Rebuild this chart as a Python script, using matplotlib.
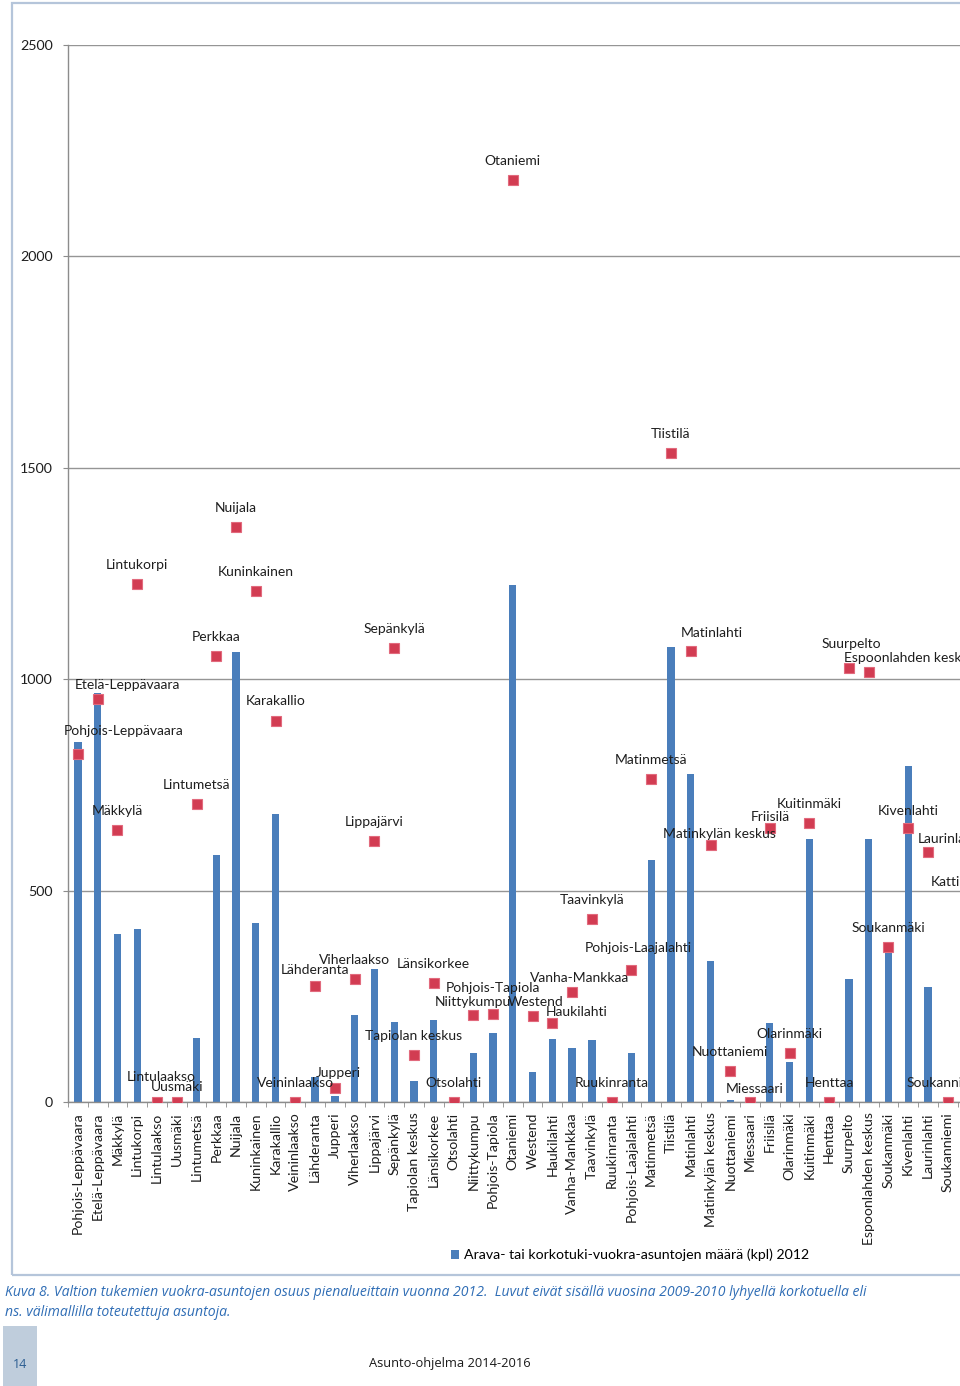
import numpy as np
import matplotlib
matplotlib.use("Agg")
import matplotlib.pyplot as plt
from matplotlib.patches import Rectangle

areas = ["Pohjois-Leppävaara", "Etelä-Leppävaara", "Mäkkylä", "Lintukorpi", "Lintulaakso",
         "Uusmäki", "Lintumetsä", "Perkkaa", "Nuijala", "Kuninkainen", "Karakallio",
         "Veininlaakso", "Lähderanta", "Jupperi", "Viherlaakso", "Lippajärvi", "Sepänkylä",
         "Tapiolan keskus", "Länsikorkee", "Otsolahti", "Niittykumpu", "Pohjois-Tapiola",
         "Otaniemi", "Westend", "Haukilahti", "Vanha-Mankkaa", "Taavinkylä", "Ruukinranta",
         "Pohjois-Laajalahti", "Matinmetsä", "Tiistilä", "Matinlahti", "Matinkylän keskus",
         "Nuottaniemi", "Miessaari", "Friisilä", "Olarinmäki", "Kuitinmäki", "Henttaa",
         "Suurpelto", "Espoonlahden keskus", "Soukanmäki", "Kivenlahti", "Laurinlahti",
         "Soukanniemi", "Kattilalaakso"]

# Arava- tai korkotuki-vuokra-asuntojen määrä (kpl) 2012  (blue bars)
bars = [851, 967, 397, 408, 0, 0, 152, 584, 1065, 424, 681, 0, 60, 15, 205, 314, 189, 50,
        194, 0, 115, 164, 1223, 71, 148, 127, 146, 0, 117, 572, 1075, 776, 334, 5, 0, 188,
        95, 622, 0, 291, 622, 360, 795, 273, 0, np.nan]

# second series (red square markers, labelled with area name)
points = [823, 952, 643, 1224, 0, 0, 706, 1055, 1360, 1208, 900, 0, 275, 34, 291, 617,
          1073, 111, 281, 0, 206, 208, 2180, 204, 188, 259, 432, 0, 312, 764, 1534, 1067,
          609, 74, 0, 647, 115, 659, 0, 1027, 1016, 367, 647, 592, 0, 475]

yticks = [0, 500, 1000, 1500, 2000, 2500]
legend_label = "Arava- tai korkotuki-vuokra-asuntojen määrä (kpl) 2012"
caption1 = ("Kuva 8. Valtion tukemien vuokra-asuntojen osuus pienalueittain vuonna 2012.  "
            "Luvut eivät sisällä vuosina 2009-2010 lyhyellä korkotuella eli")
caption2 = "ns. välimallilla toteutettuja asuntoja."
page_no = "14"
footer = "Asunto-ohjelma 2014-2016"

# label offsets in pixels (dx, dy) relative to marker; default (0, 19 above)
label_offsets = {
    "Pohjois-Leppävaara": (46, 23), "Etelä-Leppävaara": (30, 14), "Lintulaakso": (4, 25),
    "Uusmäki": (0, 15), "Jupperi": (3, 15), "Niittykumpu": (0, 13), "Pohjois-Tapiola": (0, 26),
    "Westend": (3, 14), "Haukilahti": (24, 11), "Vanha-Mankkaa": (7, 14),
    "Pohjois-Laajalahti": (7, 22), "Matinlahti": (21, 18), "Matinkylän keskus": (9, 11),
    "Miessaari": (5, 13), "Friisilä": (0, 11), "Suurpelto": (2, 24),
    "Espoonlahden keskus": (41, 14), "Kivenlahti": (0, 17), "Laurinlahti": (22, 13),
    "Soukanniemi": (-2, 19), "Lähderanta": (0, 16), "Karakallio": (0, 20),
    "Kattilalaakso": (2, 19),
}

W, H = 960, 1386
FONT = ["Lato", "DejaVu Sans"]
plt.rcParams["font.family"] = FONT

fig = plt.figure(figsize=(W / 100, H / 100), dpi=100)
fig.patch.set_facecolor("white")

# chart area frame (extends past the right page edge, as in the scanned page)
fig.patches.append(Rectangle((12 / W, (H - 1275) / H), 1.2, (1275 - 3) / H,
                             transform=fig.transFigure, fill=False,
                             ec="#b5c5da", lw=1.6, zorder=0))

n = len(areas)
step = 19.77
ax = fig.add_axes([68 / W, (H - 1102) / H, (n + 1) * step / W, (1102 - 45) / H])
x = np.arange(n)

bc = ax.bar(x, bars, width=0.37, color="#4a7ebb", zorder=2, label=legend_label)
ax.plot(x, points, ls="none", marker="s", ms=7.0, mfc="#d23c52", mec="#e26a7d",
        mew=0.8, zorder=3)

for i, (name, v) in enumerate(zip(areas, points)):
    dx, dy = label_offsets.get(name, (0, 19))
    ax.annotate(name, (i, v), xytext=(dx, dy), textcoords="offset pixels",
                ha="center", va="center", fontsize=10, color="#1e1e1e",
                zorder=4, annotation_clip=False)

ax.set_xlim(-0.5, n + 0.5)
ax.set_ylim(0, 2500)
ax.set_yticks(yticks)
ax.yaxis.grid(True, color="#959595", lw=1.0)
ax.set_axisbelow(True)
for s in ["top", "right"]:
    ax.spines[s].set_visible(False)
for s in ["left", "bottom"]:
    ax.spines[s].set_color("#8c8c8c")
    ax.spines[s].set_linewidth(1.0)

ax.set_xticks(x)
ax.set_xticklabels(areas, rotation=90, fontsize=10.2, color="#1e1e1e")
ax.set_xticks(np.arange(n + 1) - 0.5, minor=True)
ax.tick_params(axis="x", which="major", length=0, pad=7.5)
ax.tick_params(axis="x", which="minor", length=3.6, color="#8c8c8c", direction="out")
ax.tick_params(axis="y", length=3.5, color="#8c8c8c", labelsize=10.3,
               labelcolor="#1e1e1e", pad=7.5)

fig.legend(handles=[bc], labels=[legend_label], loc="center left",
           bbox_to_anchor=(444 / W, 1 - 1255 / H), frameon=False, fontsize=10.2,
           handlelength=0.55, handleheight=0.55, handletextpad=0.35, borderpad=0)

cap_font = ["Liberation Sans Narrow", "Open Sans", "DejaVu Sans"]
fig.text(5 / W, 1 - 1293 / H, caption1, color="#2f6db5", fontsize=10.1, style="italic",
         family=cap_font, va="center", ha="left")
fig.text(5 / W, 1 - 1312 / H, caption2, color="#2f6db5", fontsize=10.1, style="italic",
         family=cap_font, va="center", ha="left")

fig.patches.append(Rectangle((3 / W, 0), 34 / W, (H - 1326) / H, transform=fig.transFigure,
                             fc="#bfcddc", ec="none", zorder=0))
fig.text(20 / W, 1 - 1364 / H, page_no, color="#2b5d91", fontsize=9, family=cap_font,
         ha="center", va="center")
fig.text(450 / W, 1 - 1364 / H, footer, color="#1a1a1a", fontsize=9.3, family=cap_font,
         ha="center", va="center")

fig.savefig("out.png", dpi=100)
